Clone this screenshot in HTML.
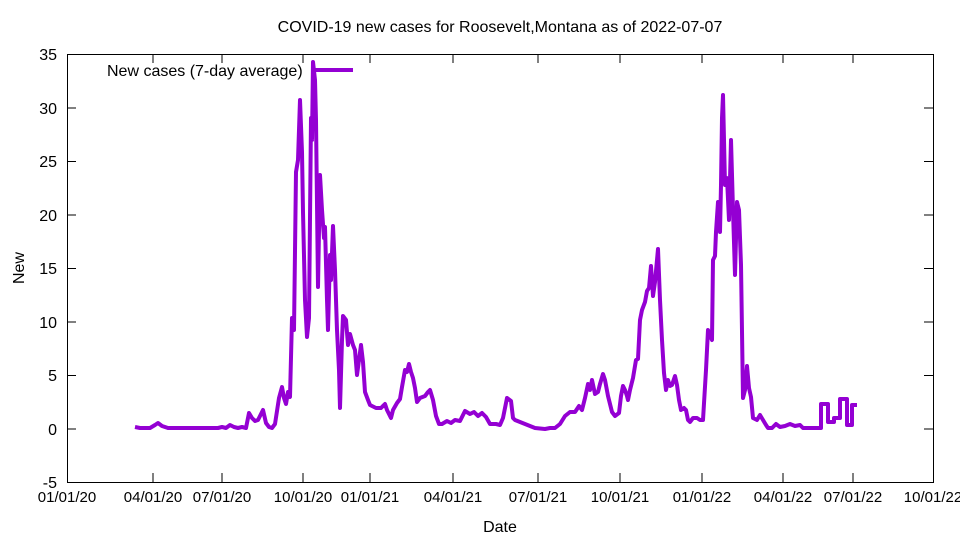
<!DOCTYPE html>
<html><head><meta charset="utf-8"><style>
body{margin:0;background:#fff}
svg text{font-family:"Liberation Sans",sans-serif;font-size:15px;fill:#000}
svg text.big{font-size:16px}
</style></head><body>
<svg width="960" height="540" xmlns="http://www.w3.org/2000/svg">
<rect width="960" height="540" fill="#fff"/>
<rect x="67.5" y="54.5" width="866" height="428" fill="none" stroke="#000" stroke-width="1"/>
<g stroke="#000" stroke-width="1">
<line x1="67" y1="54.5" x2="76" y2="54.5"/><line x1="924" y1="54.5" x2="933" y2="54.5"/>
<line x1="67" y1="108" x2="76" y2="108"/><line x1="924" y1="108" x2="933" y2="108"/>
<line x1="67" y1="161.5" x2="76" y2="161.5"/><line x1="924" y1="161.5" x2="933" y2="161.5"/>
<line x1="67" y1="215" x2="76" y2="215"/><line x1="924" y1="215" x2="933" y2="215"/>
<line x1="67" y1="268.5" x2="76" y2="268.5"/><line x1="924" y1="268.5" x2="933" y2="268.5"/>
<line x1="67" y1="322" x2="76" y2="322"/><line x1="924" y1="322" x2="933" y2="322"/>
<line x1="67" y1="375.5" x2="76" y2="375.5"/><line x1="924" y1="375.5" x2="933" y2="375.5"/>
<line x1="67" y1="429" x2="76" y2="429"/><line x1="924" y1="429" x2="933" y2="429"/>
<line x1="67" y1="482.5" x2="76" y2="482.5"/><line x1="924" y1="482.5" x2="933" y2="482.5"/>
<line x1="67.5" y1="482" x2="67.5" y2="473"/><line x1="67.5" y1="54" x2="67.5" y2="63"/>
<line x1="153" y1="482" x2="153" y2="473"/><line x1="153" y1="54" x2="153" y2="63"/>
<line x1="222" y1="482" x2="222" y2="473"/><line x1="222" y1="54" x2="222" y2="63"/>
<line x1="303" y1="482" x2="303" y2="473"/><line x1="303" y1="54" x2="303" y2="63"/>
<line x1="370" y1="482" x2="370" y2="473"/><line x1="370" y1="54" x2="370" y2="63"/>
<line x1="453" y1="482" x2="453" y2="473"/><line x1="453" y1="54" x2="453" y2="63"/>
<line x1="538" y1="482" x2="538" y2="473"/><line x1="538" y1="54" x2="538" y2="63"/>
<line x1="620" y1="482" x2="620" y2="473"/><line x1="620" y1="54" x2="620" y2="63"/>
<line x1="702" y1="482" x2="702" y2="473"/><line x1="702" y1="54" x2="702" y2="63"/>
<line x1="783" y1="482" x2="783" y2="473"/><line x1="783" y1="54" x2="783" y2="63"/>
<line x1="853" y1="482" x2="853" y2="473"/><line x1="853" y1="54" x2="853" y2="63"/>
</g>
<g text-anchor="end" class="big">
<text class="big" x="57" y="60">35</text><text class="big" x="57" y="114">30</text><text class="big" x="57" y="167">25</text>
<text class="big" x="57" y="221">20</text><text class="big" x="57" y="274">15</text><text class="big" x="57" y="328">10</text>
<text class="big" x="57" y="381">5</text><text class="big" x="57" y="435">0</text><text class="big" x="57" y="488">-5</text>
</g>
<g text-anchor="middle">
<text x="67" y="502">01/01/20</text><text x="153" y="502">04/01/20</text><text x="222" y="502">07/01/20</text>
<text x="303" y="502">10/01/20</text><text x="370" y="502">01/01/21</text><text x="453" y="502">04/01/21</text>
<text x="538" y="502">07/01/21</text><text x="620" y="502">10/01/21</text><text x="702" y="502">01/01/22</text>
<text x="783" y="502">04/01/22</text><text x="853" y="502">07/01/22</text><text x="933" y="502">10/01/22</text>
<text class="big" x="500" y="532">Date</text>
<text class="big" x="500" y="32">COVID-19 new cases for Roosevelt,Montana as of 2022-07-07</text>
</g>
<text class="big" x="24" y="268" text-anchor="middle" transform="rotate(-90 24 268)">New</text>
<text class="big" x="107" y="76">New cases (7-day average)</text>
<line x1="311" y1="70" x2="353" y2="70" stroke="#9400d3" stroke-width="4"/>
<polyline fill="none" stroke="#9400d3" stroke-width="4" stroke-linejoin="round" points="
135,427 140,428 150,428 155,425 158,423 162,426 168,428 200,428 218,428 222,427 226,428 230,425 234,427 238,428 242,427 246,428 249,413 252,418 255,421 258,420 261,414 263,410 266,423 269,427 272,428 275,424 279,398 282,387 284,398 286,404 288,392 290,397 292,318 294,330 296,172 298,160 300,100 302,152 303,212 305,300 307,337 309,318 311,118 312,140 313,62 315,80 316,120 318,287 320,175 322,210 324,238 325,227 327,300 328,330 330,255 331,280 333,226 335,270 337,330 339,370 340,408 342,340 343,316 346,320 348,345 350,334 353,345 355,350 357,375 359,360 361,345 363,362 365,392 368,400 370,405 376,408 381,408 385,404 387,410 391,418 393,410 397,403 400,399 402,387 405,370 407,372 409,364 411,372 413,378 415,388 417,402 420,398 425,396 428,392 430,390 433,400 436,416 439,424 442,424 447,421 451,423 455,420 460,421 465,411 470,414 474,412 478,416 482,413 486,417 490,424 496,424 500,425 503,418 507,398 511,401 513,418 515,420 520,422 525,424 530,426 535,428 545,429 550,428 555,428 560,424 565,416 570,412 575,412 579,406 582,410 585,398 588,384 590,390 592,380 595,394 598,392 600,384 603,374 605,380 608,396 612,412 615,416 619,413 621,396 623,386 625,390 627,396 628,400 630,390 633,378 636,360 638,359 640,320 642,310 645,302 647,291 649,288 651,266 653,296 655,282 658,249 660,300 662,340 664,373 666,390 668,380 670,386 672,385 675,376 677,385 679,400 681,410 684,408 686,410 688,420 690,422 693,418 697,418 700,420 703,420 706,370 708,330 710,335 712,340 713,260 715,256 716,232 718,202 720,232 721,185 722,118 723,95 725,185 727,178 729,220 731,140 733,210 735,275 737,202 739,210 741,265 743,398 745,390 747,366 749,388 751,397 753,418 757,420 760,415 763,420 766,425 768,428 772,428 776,424 780,427 785,426 790,424 795,426 800,425 803,428 808,428 821,428 821,404 828,404 828,422 834,422 834,418 840,418 840,399 847,399 847,425 852,425 852,405 857,405"/>
</svg>
</body></html>
